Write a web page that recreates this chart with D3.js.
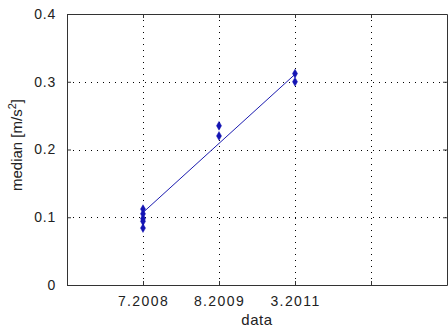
<!DOCTYPE html>
<html>
<head>
<meta charset="utf-8">
<script src="https://cdn.jsdelivr.net/npm/d3@7"></script>
<style>
  body { margin: 0; background: #fff; }
  text { font-family: "Liberation Sans", Arial, sans-serif; fill: #222; }
</style>
</head>
<body>
<svg id="chart" width="448" height="333"></svg>
<script>
// measurement campaigns (x positions 1..3), tick 4 is unlabeled
const tickPos = [1, 2, 3, 4];
const tickLabels = ['7.2008', '8.2009', '3.2011', ''];
const yTicks = [0, 0.1, 0.2, 0.3, 0.4];

const pointX = [1, 1, 1, 1, 1, 2, 2, 3, 3];
const pointY = [0.112, 0.105, 0.098, 0.094, 0.084, 0.235, 0.22, 0.312, 0.30];

// fitted trend line end points
const lineX = [1, 3];
const lineY = [0.107, 0.311];

const margin = { left: 67, right: 1, top: 14, bottom: 48 };
const width = 448, height = 333;

const svg = d3.select('#chart');

const x = d3.scaleLinear().domain([0, 5]).range([margin.left, width - margin.right]);
const y = d3.scaleLinear().domain([0, 0.4]).range([height - margin.bottom, margin.top]);

const grid = svg.append('g')
    .attr('stroke', '#000')
    .attr('stroke-width', 1)
    .attr('stroke-dasharray', '1,5');

tickPos.forEach(t => {
    grid.append('line')
        .attr('x1', Math.round(x(t)) + 0.5).attr('x2', Math.round(x(t)) + 0.5)
        .attr('y1', y(0.4)).attr('y2', y(0));
});
yTicks.slice(1, -1).forEach(t => {
    grid.append('line')
        .attr('x1', x(0)).attr('x2', x(5))
        .attr('y1', Math.round(y(t)) + 0.5).attr('y2', Math.round(y(t)) + 0.5);
});

// axes with inward ticks
const axisB = svg.append('g')
    .attr('transform', `translate(0, ${y(0)})`)
    .call(d3.axisBottom(x).tickValues(tickPos).tickFormat((d, i) => tickLabels[i]).tickSizeInner(-4).tickSizeOuter(0).tickPadding(11));
const axisT = svg.append('g')
    .attr('transform', `translate(0, ${y(0.4)})`)
    .call(d3.axisTop(x).tickValues(tickPos).tickFormat('').tickSizeInner(-4).tickSizeOuter(0));
const axisL = svg.append('g')
    .attr('transform', `translate(${x(0)}, 0)`)
    .call(d3.axisLeft(y).tickValues(yTicks).tickFormat(d => d === 0 ? '0' : d3.format('.1f')(d)).tickSizeInner(-4).tickSizeOuter(0).tickPadding(11));
const axisR = svg.append('g')
    .attr('transform', `translate(${x(5)}, 0)`)
    .call(d3.axisRight(y).tickValues(yTicks).tickFormat('').tickSizeInner(-4).tickSizeOuter(0));

[axisB, axisT, axisL, axisR].forEach(a => {
    a.select('.domain').attr('stroke', '#333');
    a.selectAll('.tick line').attr('stroke', '#333');
    a.selectAll('text').style('font-size', '14px').attr('fill', '#222');
});
axisB.selectAll('text').style('letter-spacing', '1.4px');
axisL.selectAll('text').style('letter-spacing', '0.8px');

// trend line
svg.append('path')
    .datum(lineX.map((d, i) => [d, lineY[i]]))
    .attr('fill', 'none')
    .attr('stroke', '#1c1cb0')
    .attr('stroke-width', 1)
    .attr('d', d3.line().x(d => x(d[0])).y(d => y(d[1])));

// data points
svg.append('g')
    .selectAll('path')
    .data(pointX.map((d, i) => [d, pointY[i]]))
    .join('path')
    .attr('transform', d => `translate(${x(d[0])}, ${y(d[1])})`)
    .attr('d', d3.symbol(d3.symbolDiamond, 22))
    .attr('fill', '#1414b4')
    .attr('stroke', '#1414b4')
    .attr('stroke-width', 0.5);

svg.append('text')
    .attr('x', (x(0) + x(5)) / 2)
    .attr('y', 325)
    .attr('text-anchor', 'middle')
    .style('font-size', '15px')
    .style('letter-spacing', '0.6px')
    .text('data');

const yl = svg.append('text')
    .attr('transform', `translate(22, 145) rotate(-90)`)
    .attr('text-anchor', 'middle')
    .style('font-size', '15px');
yl.append('tspan').text('median [m/s');
yl.append('tspan').attr('dy', -6).style('font-size', '11px').text('2');
yl.append('tspan').attr('dy', 6).text(']');
</script>
</body>
</html>
